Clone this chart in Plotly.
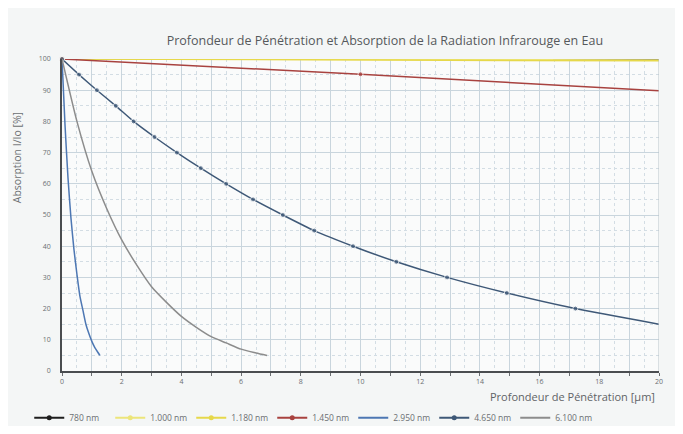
import plotly.graph_objects as go

# valeurs (profondeur en µm, absorption I/Io en %)
x_780 = [0, 20]
y_780 = [100, 99.9]

x_1000 = [0, 20]
y_1000 = [100, 99.7]

x_1180 = [0, 20]
y_1180 = [100, 99.4]

x_1450 = [0, 10, 20]
y_1450 = [100, 95.1, 89.8]

x_2950 = [0, 0.1, 0.2, 0.3, 0.4, 0.5, 0.6, 0.7, 0.8, 0.9, 1.0, 1.1, 1.2, 1.27]
y_2950 = [100, 79, 62, 49, 39, 31, 24, 19.5, 15, 12, 9.5, 7.5, 6, 5]

x_4650 = [0, 0.57, 1.17, 1.8, 2.4, 3.1, 3.85, 4.65, 5.5, 6.4, 7.4, 8.45, 9.75, 11.2, 12.9, 14.9, 17.2, 20]
y_4650 = [100, 95, 90, 85, 80, 75, 70, 65, 60, 55, 50, 45, 40, 35, 30, 25, 20, 15]

x_6100 = [0, 0.5, 1, 1.5, 2, 2.5, 3, 3.5, 4, 4.5, 5, 5.5, 6, 6.5, 6.87]
y_6100 = [100, 80, 64, 52, 42, 34, 27, 22, 17.5, 14, 11, 9, 7, 5.8, 5]

x_ticks = list(range(0, 21))
x_labels = [str(v) if v % 2 == 0 else "" for v in x_ticks]

FONT = "Open Sans"
TXT = "#6b6f72"

series = [
    ("780 nm", x_780, y_780, "#1e1e1e", "lines+markers"),
    ("1.000 nm", x_1000, y_1000, "#ece57a", "lines+markers"),
    ("1.180 nm", x_1180, y_1180, "#e6d84a", "lines+markers"),
    ("1.450 nm", x_1450, y_1450, "#a8423f", "lines+markers"),
    ("2.950 nm", x_2950, y_2950, "#4d77b3", "lines"),
    ("4.650 nm", x_4650, y_4650, "#3e5877", "lines+markers"),
    ("6.100 nm", x_6100, y_6100, "#8c8c8c", "lines"),
]

fig = go.Figure()
for name, xs, ys, col, mode in series:
    # pas de marqueur visible au bout de la courbe (x = 20)
    sizes = [0 if xv >= 20 else 5 for xv in xs]
    fig.add_trace(go.Scatter(
        x=xs, y=ys, name=name, mode=mode, legendgroup=name, showlegend=False,
        line=dict(color=col, width=1.5, shape="spline", smoothing=0.6),
        marker=dict(size=sizes, color=col),
        cliponaxis=False,
    ))
    # entrée de légende
    fig.add_trace(go.Scatter(
        x=[None], y=[None], name=name, mode=mode, legendgroup=name,
        line=dict(color=col, width=2), marker=dict(size=5, color=col),
    ))

fig.update_layout(
    width=667, height=418,
    margin=dict(l=54, r=16, t=51, b=55, autoexpand=False),
    paper_bgcolor="#f4f6f6",
    plot_bgcolor="#fafbfb",
    font=dict(family=FONT, color=TXT, size=7),
    title=dict(
        text="Profondeur de Pénétration et Absorption de la Radiation Infrarouge en Eau",
        font=dict(family=FONT, size=12.5, color="#56595c"),
        x=0.565, xanchor="center", y=0.923, yanchor="middle",
    ),
    showlegend=True,
    legend=dict(
        orientation="h", x=0.42, xanchor="center", y=-0.15, yanchor="middle",
        font=dict(family=FONT, size=8.5, color=TXT),
        entrywidth=36, itemwidth=30, bgcolor="rgba(0,0,0,0)",
    ),
)

fig.update_xaxes(
    range=[0, 20], tickmode="array", tickvals=x_ticks, ticktext=x_labels,
    showgrid=True, gridcolor="#c9d5dd", gridwidth=1,
    minor=dict(dtick=0.5, showgrid=True, gridcolor="#d3dde4", griddash="dot"),
    showline=True, linecolor="#4a4d50", linewidth=1.6,
    ticks="outside", ticklen=3, tickcolor="#6b6f72",
    tickfont=dict(size=7, color=TXT), zeroline=False, mirror=False,
)
fig.update_yaxes(
    range=[0, 100], dtick=10,
    showgrid=True, gridcolor="#c9d5dd", gridwidth=1,
    minor=dict(dtick=5, showgrid=True, gridcolor="#d3dde4", griddash="dot"),
    showline=True, linecolor="#4a4d50", linewidth=1.6,
    ticks="", ticklabelstandoff=8,
    tickfont=dict(size=7, color=TXT), zeroline=False,
)

# bord droit du cadre
fig.add_shape(type="line", xref="x", yref="paper", x0=20, x1=20, y0=0, y1=1,
              line=dict(color="#b8c2c8", width=1))

fig.add_annotation(
    text="Absorption I/Io [%]", xref="paper", yref="paper",
    x=-0.09, y=0.835, textangle=-90, showarrow=False,
    font=dict(family=FONT, size=10.5, color=TXT),
)
fig.add_annotation(
    text="Profondeur de Pénétration [µm]", xref="paper", yref="paper",
    x=0.997, xanchor="right", y=-0.083, yanchor="middle", showarrow=False,
    font=dict(family=FONT, size=11, color="#5f6366"),
)

fig.write_html("out.html")
